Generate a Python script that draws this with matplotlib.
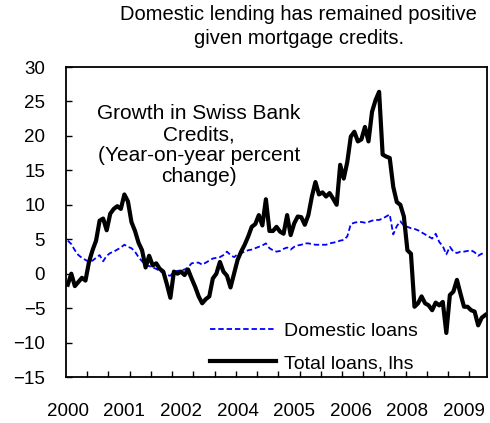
import numpy as np
import matplotlib
matplotlib.use("Agg")
import matplotlib.pyplot as plt
from matplotlib.ticker import FixedLocator

plt.rcParams['font.family'] = ['Liberation Sans', 'DejaVu Sans']

# monthly, Jan 2000 onwards
total_loans = [
    -1.6, 0.0, -1.8, -1.2, -0.6, -1.0, 1.7, 3.4, 4.8, 7.7,
    8.0, 6.3, 8.7, 9.4, 9.8, 9.4, 11.5, 10.5, 7.5, 6.2,
    4.5, 3.4, 0.9, 2.6, 1.2, 1.5, 0.7, 0.3, -1.5, -3.5,
    0.3, 0.0, 0.3, -0.2, 0.6, -0.7, -1.9, -3.3, -4.3, -3.7,
    -3.3, -0.7, 0.0, 1.7, 0.3, -0.3, -2.0, 0.0, 2.0, 3.2,
    4.2, 5.4, 6.8, 7.2, 8.5, 7.0, 10.8, 6.2, 6.2, 6.8,
    6.1, 5.8, 8.5, 5.6, 7.3, 8.3, 8.2, 7.1, 8.5, 11.2,
    13.3, 11.5, 11.8, 11.2, 11.7, 10.9, 10.0, 15.8, 13.8, 16.2,
    19.9, 20.6, 19.2, 19.5, 21.3, 19.2, 23.5, 25.2, 26.4, 17.3,
    17.0, 16.8, 12.6, 10.4, 10.0, 8.3, 3.4, 2.9, -4.8, -4.3,
    -3.3, -4.3, -4.6, -5.3, -4.2, -4.6, -4.1, -8.6, -3.1, -2.6,
    -0.9, -2.9, -4.8, -4.8, -5.3, -5.5, -7.5, -6.4, -6.0,
]
domestic_loans = [
    4.8, 4.3, 3.4, 2.7, 2.3, 2.0, 1.7, 1.9, 2.3, 2.7,
    1.8, 2.6, 3.0, 3.2, 3.5, 3.8, 4.2, 3.9, 3.7, 3.2,
    2.4, 1.8, 1.3, 1.1, 0.9, 0.7, 0.4, 0.1, -0.2, -0.3,
    0.3, 0.4, 0.5, 0.6, 0.9, 1.5, 1.6, 1.6, 1.3, 1.6,
    1.9, 2.2, 2.3, 2.4, 2.7, 3.2, 2.7, 2.4, 2.8, 3.0,
    3.2, 3.4, 3.5, 3.7, 3.9, 4.1, 4.4, 3.7, 3.4, 3.2,
    3.3, 3.6, 3.8, 3.5, 3.9, 4.1, 4.2, 4.4, 4.4, 4.3,
    4.2, 4.2, 4.2, 4.2, 4.4, 4.5, 4.6, 4.8, 4.9, 5.4,
    7.2, 7.4, 7.5, 7.5, 7.4, 7.5, 7.7, 7.8, 7.8, 8.0,
    8.3, 8.6, 5.7, 6.9, 7.6, 7.0, 6.8, 6.6, 6.5, 6.3,
    6.0, 5.7, 5.4, 5.1, 5.8, 4.6, 4.0, 2.8, 3.9, 3.2,
    3.0, 3.2, 3.2, 3.3, 3.4, 3.1, 2.6, 2.9, 2.9,
]
# excel category axis: a label every 16 months
year_labels = ['2000', '2001', '2002', '2004', '2005', '2006', '2008', '2009']

n = len(total_loans)
x = np.arange(n)

fig = plt.figure(figsize=(4.9, 4.23), dpi=100)
ax = fig.add_axes([0.1347, 0.1087, 0.8592, 0.7329])

ax.plot(x, domestic_loans, color='#0000ff', lw=1.3, ls=(0, (3, 1.6)), label='Domestic loans')
ax.plot(x, total_loans, color='black', lw=3, label='Total loans, lhs')

ax.set_xlim(-0.5, n - 0.5)
ax.set_ylim(-15, 30)
ax.set_yticks(np.arange(-15, 31, 5))

ax.set_xticks(np.arange(0, n, 16))
ax.set_xticklabels(year_labels)
ax.xaxis.set_minor_locator(FixedLocator(np.arange(5.5, n - 1, 6)))
ax.tick_params(axis='x', which='major', length=0, pad=19, labelsize=13.5)
ax.tick_params(axis='x', which='minor', direction='in', length=4, width=1)
ax.tick_params(axis='y', direction='in', length=4, width=1, pad=15, labelsize=13.5)

for s in ax.spines.values():
    s.set_linewidth(1.3)

ax.text(0.316, 0.88, "Growth in Swiss Bank\nCredits,\n(Year-on-year percent\nchange)",
        transform=ax.transAxes, ha='center', va='top', fontsize=15,
        linespacing=1.13)

ax.legend(loc='upper left', frameon=False, fontsize=14, handlelength=3.4,
          handletextpad=0.4, labelspacing=0.75, borderaxespad=0, borderpad=0,
          bbox_to_anchor=(0.342, 0.176))

fig.text(0.61, 0.988, "Domestic lending has remained positive\ngiven mortgage credits.",
         ha='center', va='top', fontsize=14.5, linespacing=1.3)

fig.savefig('out.png', dpi=100)
